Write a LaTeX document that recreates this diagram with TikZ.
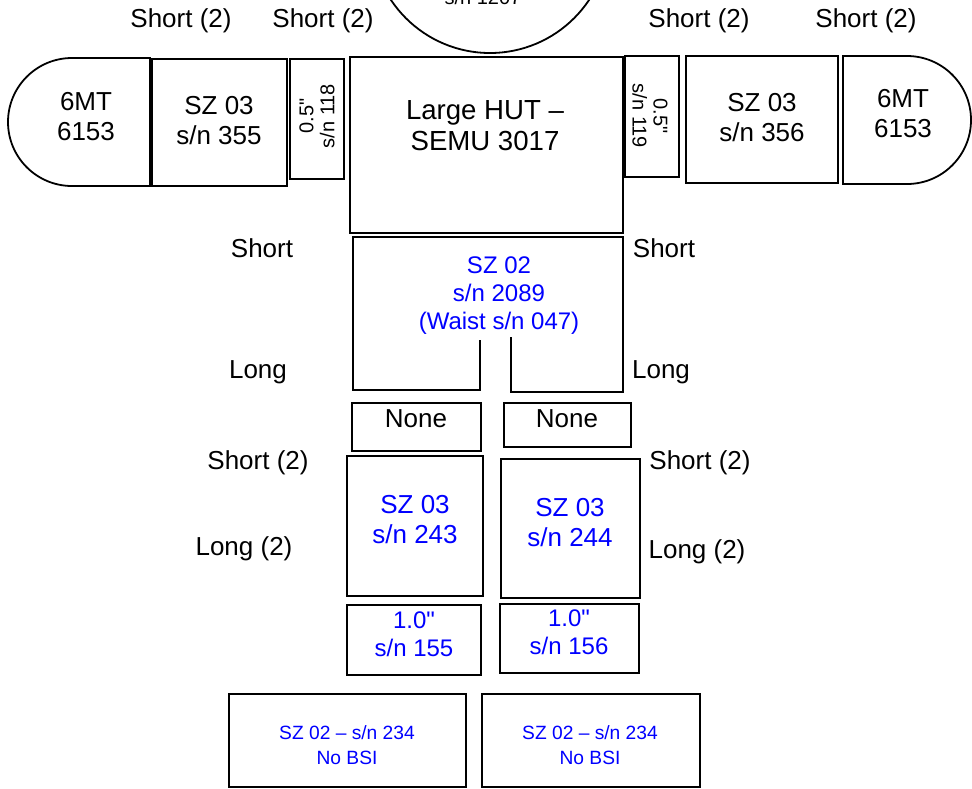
\documentclass[tikz,border=0pt]{standalone}
\usepackage{fontspec}
\setmainfont{Liberation Sans}[Ligatures=TeXOff]
\usepackage{tikz}
\usetikzlibrary{positioning}

\tikzset{
	part/.style={draw=black,line width=0.9pt},
	lbl/.style={font=\fontsize{13}{15}\selectfont,align=center,inner sep=0pt},
	bluelbl/.style={lbl,text=blue},
	smalllbl/.style={font=\fontsize{10}{10.5}\selectfont,align=center,inner sep=0pt},
}

\begin{document}
\begin{tikzpicture}[x=0.5pt,y=-0.5pt]
	\useasboundingbox (0,0) rectangle (972,788);
	% helmet, mostly above the page
	\draw[part] (490,-66) circle (59.5pt);
	\node[smalllbl,anchor=base] (helmet) at (483,4) {s/n 1207};
	% gloves
	\draw[part] (150,58) -- (72,58) arc[start angle=90,end angle=270,radius=32pt] -- (150,186) -- cycle;
	\draw[part] (843,56) -- (907,56) arc[start angle=90,end angle=-90,radius=32pt] -- (843,184) -- cycle;
	% boxes
	\foreach\a/\b/\c/\d in {152/59/287/186, 290/59/344/179, 350/57/623/233, 625/56/679/177,
		686/56/838/183, 352/403/481/451, 504/403/631/447, 347/456/483/596, 501/459/640/598,
		347/605/481/675, 500/604/639/673, 229/694/466/787, 482/694/700/787}
	{\draw[part] (\a,\b) rectangle (\c,\d);}
	% waist with leg split
	\draw[part] (480,340) -- (480,390) -- (353,390) -- (353,237) -- (623,237) -- (623,392) -- (511,392) -- (511,337);

	\node[lbl] (glvL) at (86,117) {6MT\\6153};
	\node[lbl] (glvR) at (903,114) {6MT\\6153};
	\node[lbl] (armL) at (219,121) {SZ 03\\s/n 355};
	\node[lbl] (armR) at (762,118) {SZ 03\\s/n 356};
	\node[smalllbl,rotate=90] (ringL) at (317,116) {0.5"\\s/n 118};
	\node[smalllbl,rotate=-90] (ringR) at (650,116) {0.5"\\s/n 119};
	\node[lbl,font=\fontsize{13.8}{15.5}\selectfont] (hut) at (485,126) {Large HUT \textendash\\SEMU 3017};
	\node[bluelbl,font=\fontsize{12}{14}\selectfont] (lta) at (499,296) {SZ 02\\s/n 2089\\(Waist s/n 047)};
	\node[lbl] (noneL) at (416,419) {None};
	\node[lbl] (noneR) at (567,419) {None};
	\node[bluelbl] (legL) at (415,520) {SZ 03\\s/n 243};
	\node[bluelbl] (legR) at (570,523) {SZ 03\\s/n 244};
	\node[bluelbl,font=\fontsize{12}{14}\selectfont] (shimL) at (414,634) {1.0"\\s/n 155};
	\node[bluelbl,font=\fontsize{12}{14}\selectfont] (shimR) at (569,632) {1.0"\\s/n 156};
	\node[bluelbl,font=\fontsize{9.6}{12.5}\selectfont] (bootL) at (347,745) {SZ 02 \textendash\ s/n 234\\No BSI};
	\node[bluelbl,font=\fontsize{9.6}{12.5}\selectfont] (bootR) at (590,745) {SZ 02 \textendash\ s/n 234\\No BSI};

	% sizing labels
	\node[lbl] (sA) at (181,21) {Short (2)};
	\node[lbl] (sB) at (323,21) {Short (2)};
	\node[lbl] (sC) at (699,21) {Short (2)};
	\node[lbl] (sD) at (866,21) {Short (2)};
	\node[lbl] (sE) at (262,248) {Short};
	\node[lbl] (sF) at (664,248) {Short};
	\node[lbl] (lA) at (258,372) {Long};
	\node[lbl] (lB) at (661,372) {Long};
	\node[lbl] (sG) at (258,463) {Short (2)};
	\node[lbl] (sH) at (700,463) {Short (2)};
	\node[lbl] (lC) at (244,549) {Long (2)};
	\node[lbl] (lD) at (697,552) {Long (2)};
\end{tikzpicture}
\end{document}
